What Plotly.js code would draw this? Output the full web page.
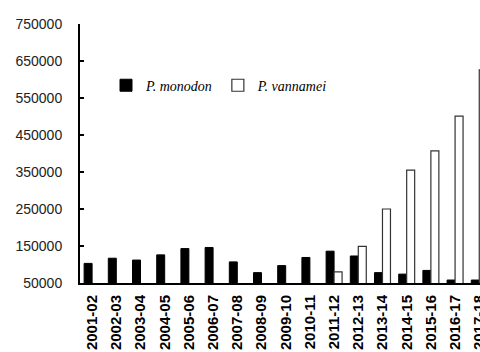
<!DOCTYPE html>
<html>
<head>
<meta charset="utf-8">
<script src="https://cdn.plot.ly/plotly-3.0.1.min.js"></script>
<style>html,body{margin:0;padding:0;background:#fff;}#chart{width:480px;height:352px;}</style>
</head>
<body>
<div id="chart"></div>
<script>
var years = ["2001-02","2002-03","2003-04","2004-05","2005-06","2006-07","2007-08","2008-09","2009-10","2010-11","2011-12","2012-13","2013-14","2014-15","2015-16","2016-17","2017-18"];
var monodon = [103000,117000,112000,126000,143000,146000,107000,78000,97000,119000,136000,123000,78000,74000,84000,58000,58000];
var vannamei = [null,null,null,null,null,null,null,null,null,null,80000,149000,250000,355000,407000,501000,626000];

var traces = [
  {type:'bar', name:'<i>P. monodon</i>', x:years, y:monodon,
   marker:{color:'#000000', line:{color:'#000000', width:1}}},
  {type:'bar', name:'<i>P. vannamei</i>', x:years, y:vannamei,
   marker:{color:'#ffffff', line:{color:'#333333', width:1.2}}}
];

var layout = {
  width:480, height:352,
  margin:{l:80, r:0, t:24, b:69, pad:0},
  paper_bgcolor:'#ffffff', plot_bgcolor:'#ffffff',
  barmode:'group', bargap:0.34, bargroupgap:0,
  showlegend:true,
  legend:{orientation:'h', x:0.065, y:0.762, xanchor:'left', yanchor:'middle',
          font:{family:'Liberation Serif', size:14, color:'#000'},
          itemwidth:30, bgcolor:'rgba(0,0,0,0)', traceorder:'normal'},
  xaxis:{type:'category', range:[-0.5, 16.03], showgrid:false, zeroline:false,
         showline:true, linecolor:'#000', linewidth:2, ticks:'',
         tickangle:-90, ticklabelstandoff:4,
         tickfont:{family:'Arial', size:15, color:'#000', weight:'bold'},
         automargin:false},
  yaxis:{range:[50000, 750000], tick0:50000, dtick:100000, tickformat:'d',
         showgrid:false, zeroline:false, showline:true, linecolor:'#000', linewidth:2,
         ticks:'inside', ticklen:4, tickwidth:2, tickcolor:'#000',
         ticklabelstandoff:13,
         tickfont:{family:'Arial', size:14, color:'#222'}, automargin:false}
};

Plotly.newPlot('chart', traces, layout, {displayModeBar:false, staticPlot:true});
</script>
</body>
</html>
